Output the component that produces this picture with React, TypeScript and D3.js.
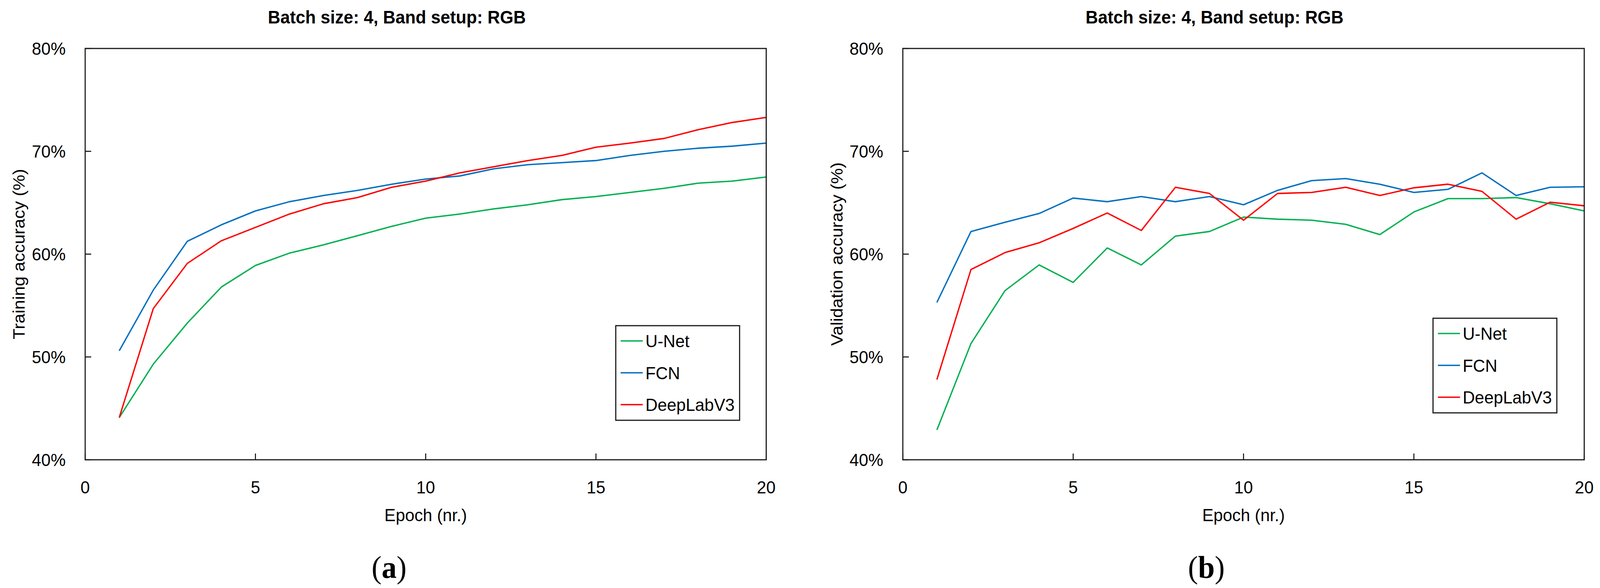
import React, { useEffect, useRef } from 'react';
import * as d3 from 'd3';

const EPOCHS = d3.range(1, 21);

const TRAIN_UNET = [44.1, 49.3, 53.3, 56.8, 58.9, 60.1, 60.9, 61.8, 62.7, 63.5, 63.9, 64.4, 64.8, 65.3, 65.6, 66.0, 66.4, 66.9, 67.1, 67.5];
const TRAIN_FCN = [50.6, 56.5, 61.25, 62.85, 64.2, 65.1, 65.7, 66.2, 66.8, 67.3, 67.6, 68.3, 68.7, 68.9, 69.1, 69.6, 70.0, 70.3, 70.5, 70.8];
const TRAIN_DEEPLAB = [44.1, 54.7, 59.1, 61.3, 62.6, 63.9, 64.9, 65.5, 66.5, 67.1, 67.9, 68.5, 69.1, 69.6, 70.4, 70.8, 71.25, 72.1, 72.8, 73.3];

const VAL_UNET = [42.9, 51.3, 56.45, 58.95, 57.25, 60.6, 58.95, 61.75, 62.2, 63.6, 63.4, 63.3, 62.9, 61.9, 64.1, 65.4, 65.4, 65.5, 64.9, 64.2];
const VAL_FCN = [55.3, 62.2, 63.1, 63.95, 65.45, 65.1, 65.6, 65.1, 65.6, 64.8, 66.2, 67.15, 67.35, 66.8, 66.0, 66.3, 67.9, 65.7, 66.5, 66.55];
const VAL_DEEPLAB = [47.8, 58.5, 60.15, 61.1, 62.5, 64.0, 62.3, 66.5, 65.9, 63.3, 65.9, 66.0, 66.5, 65.7, 66.45, 66.8, 66.1, 63.4, 65.05, 64.7];

const MODELS = ['U-Net', 'FCN', 'DeepLabV3'];
const COLORS = ['#00B050', '#0070C0', '#FF0000'];

const X_TICKS = [0, 5, 10, 15, 20];
const Y_TICKS = [40, 50, 60, 70, 80];

const TITLE = 'Batch size: 4, Band setup: RGB';
const X_LABEL = 'Epoch (nr.)';

const FONT = '"Liberation Sans", Arial, sans-serif';
const W = 4264;
const H = 1504;

interface PanelProps {
  x0: number;
  x1: number;
  series: number[][];
  yLabel: string;
  titleX: number;
  tag: string;
  tagX: number;
  legendRight: number;
  legendTop: number;
}

const PLOT_TOP = 124;
const PLOT_BOTTOM = 1176;

const Panel: React.FC<PanelProps> = ({ x0, x1, series, yLabel, titleX, tag, tagX, legendRight, legendTop }) => {
  const gRef = useRef<SVGGElement>(null);

  useEffect(() => {
    if (!gRef.current) return;
    const g = d3.select(gRef.current);
    g.selectAll('*').remove();

    const x = d3.scaleLinear().domain([0, 20]).range([x0, x1]);
    const y = d3.scaleLinear().domain([40, 80]).range([PLOT_BOTTOM, PLOT_TOP]);

    // chart title (centred on the chart area, not the plot)
    g.append('text')
      .attr('x', titleX)
      .attr('y', 60)
      .attr('text-anchor', 'start')
      .attr('font-family', FONT)
      .attr('font-weight', 'bold')
      .attr('font-size', 46)
      .attr('fill', '#000')
      .text(TITLE);

    // ticks point inward
    const tickLen = 16;
    g.selectAll('.xtick')
      .data(X_TICKS)
      .join('line')
      .attr('x1', (d) => x(d))
      .attr('x2', (d) => x(d))
      .attr('y1', PLOT_BOTTOM)
      .attr('y2', PLOT_BOTTOM - tickLen)
      .attr('stroke', '#000')
      .attr('stroke-width', 2.5);

    g.selectAll('.ytick')
      .data(Y_TICKS)
      .join('line')
      .attr('x1', x0)
      .attr('x2', x0 + tickLen)
      .attr('y1', (d) => y(d))
      .attr('y2', (d) => y(d))
      .attr('stroke', '#000')
      .attr('stroke-width', 2.5);

    g.selectAll('.xlab')
      .data(X_TICKS)
      .join('text')
      .attr('x', (d) => x(d))
      .attr('y', 1262)
      .attr('text-anchor', 'middle')
      .attr('font-family', FONT)
      .attr('font-size', 45)
      .attr('fill', '#000')
      .text((d) => String(d));

    g.selectAll('.ylab')
      .data(Y_TICKS)
      .join('text')
      .attr('x', x0 - 52)
      .attr('y', (d) => y(d))
      .attr('dy', '0.36em')
      .attr('text-anchor', 'end')
      .attr('font-family', FONT)
      .attr('font-size', 45)
      .attr('fill', '#000')
      .text((d) => `${d}%`);

    // lines
    const line = d3
      .line<number>()
      .x((_, i) => x(EPOCHS[i]))
      .y((d) => y(d));

    series.forEach((s, i) => {
      g.append('path')
        .attr('d', line(s))
        .attr('fill', 'none')
        .attr('stroke', COLORS[i])
        .attr('stroke-width', 3.6)
        .attr('stroke-linejoin', 'round');
    });

    // frame
    g.append('rect')
      .attr('x', x0)
      .attr('y', PLOT_TOP)
      .attr('width', x1 - x0)
      .attr('height', PLOT_BOTTOM - PLOT_TOP)
      .attr('fill', 'none')
      .attr('stroke', '#1a1a1a')
      .attr('stroke-width', 3);

    // axis labels
    g.append('text')
      .attr('x', (x0 + x1) / 2)
      .attr('y', 1333)
      .attr('text-anchor', 'middle')
      .attr('font-family', FONT)
      .attr('font-size', 45)
      .attr('fill', '#000')
      .text(X_LABEL);

    g.append('text')
      .attr('transform', `translate(${x0 - 161},${(PLOT_TOP + PLOT_BOTTOM) / 2}) rotate(-90)`)
      .attr('text-anchor', 'middle')
      .attr('font-family', FONT)
      .attr('font-size', 45)
      .attr('fill', '#000')
      .text(yLabel);

    // legend
    const lw = 330;
    const lh = 242;
    const lx = x1 - legendRight - lw;
    const leg = g.append('g').attr('transform', `translate(${lx},${legendTop})`);
    leg.append('rect')
      .attr('width', lw)
      .attr('height', lh)
      .attr('fill', '#fff')
      .attr('stroke', '#1a1a1a')
      .attr('stroke-width', 3);
    MODELS.forEach((m, i) => {
      const cy = 39 + i * 81.5;
      leg.append('line')
        .attr('x1', 13)
        .attr('x2', 72)
        .attr('y1', cy)
        .attr('y2', cy)
        .attr('stroke', COLORS[i])
        .attr('stroke-width', 3.6);
      leg.append('text')
        .attr('x', 79)
        .attr('y', cy)
        .attr('dy', '0.36em')
        .attr('font-family', FONT)
        .attr('font-size', 45)
        .attr('fill', '#000')
        .text(m);
    });

    // panel tag
    const t = g.append('text')
      .attr('x', tagX)
      .attr('y', 1478)
      .attr('text-anchor', 'middle')
      .attr('font-family', '"Liberation Serif", "Times New Roman", serif')
      .attr('font-size', 80)
      .attr('fill', '#000');
    t.append('tspan').text('(');
    t.append('tspan').attr('font-weight', 'bold').text(tag);
    t.append('tspan').text(')');
  }, [x0, x1, series, yLabel, titleX, tag, tagX, legendRight, legendTop]);

  return <g ref={gRef} />;
};

export default function App() {
  useEffect(() => {
    document.body.style.margin = '0';
    document.body.style.overflow = 'hidden';
  }, []);

  return (
    <svg
      viewBox={`0 0 ${W} ${H}`}
      preserveAspectRatio="none"
      style={{ display: 'block', position: 'fixed', left: 0, top: 0, width: '100vw', height: '100vh', background: '#fff' }}
    >
      <rect width={W} height={H} fill="#fff" />
      <Panel
        x0={227}
        x1={2042}
        series={[TRAIN_UNET, TRAIN_FCN, TRAIN_DEEPLAB]}
        yLabel="Training accuracy (%)"
        titleX={714}
        tag="a"
        tagX={1037}
        legendRight={71}
        legendTop={833}
      />
      <Panel
        x0={2406}
        x1={4222}
        series={[VAL_UNET, VAL_FCN, VAL_DEEPLAB]}
        yLabel="Validation accuracy (%)"
        titleX={2893}
        tag="b"
        tagX={3215}
        legendRight={73}
        legendTop={814}
      />
    </svg>
  );
}
